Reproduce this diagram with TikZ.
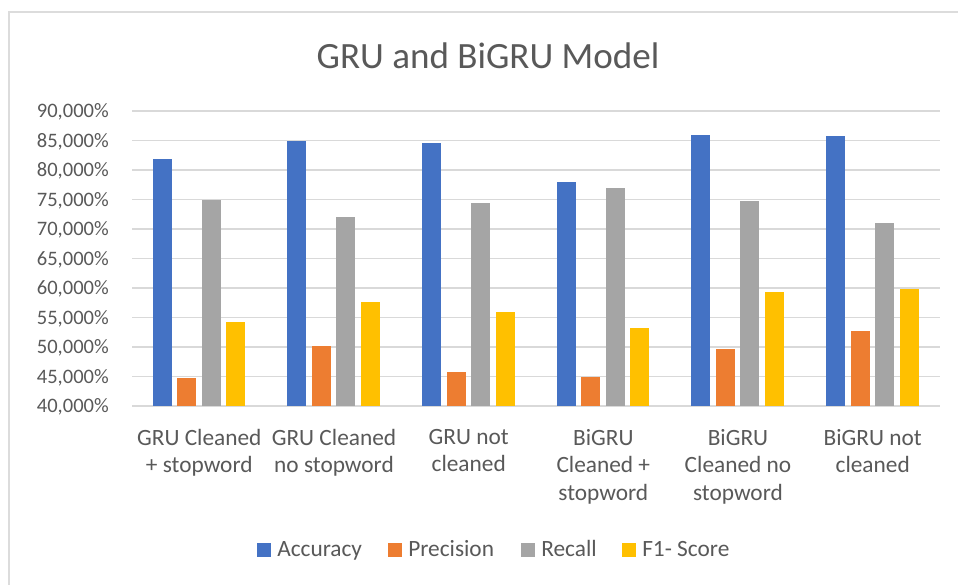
\documentclass[tikz,border=0pt]{standalone}
\usepackage{fontspec}
\setmainfont{Carlito}
\definecolor{serA}{HTML}{4472C4}
\definecolor{serP}{HTML}{ED7D31}
\definecolor{serR}{HTML}{A5A5A5}
\definecolor{serF}{HTML}{FFC000}
\definecolor{gridc}{HTML}{D9D9D9}
\definecolor{framec}{HTML}{DCDCDC}
\definecolor{txt}{HTML}{595959}
\tikzset{
  ticklabel/.style={anchor=base east, inner sep=0pt, text=txt, font=\fontsize{15.4}{18}\selectfont},
  catlabel/.style={anchor=north, inner sep=0pt, align=center, text=txt,
    font=\fontsize{17.5}{20.6}\selectfont, execute at begin node=\vphantom{d}},
  legtext/.style={anchor=base west, inner sep=0pt, text=txt, font=\fontsize{17.5}{20.6}\selectfont},
  gridline/.style={draw=gridc, line width=1.1pt},
}
% bar: group index, series offset, value, colour
\newcommand\drawbar[4]{%
  \fill[#4] ({132+134.667*#1+20.7+24.5*#2},406) rectangle ++(19,{-5.9*(#3-40)});}
\begin{document}
\begin{tikzpicture}[x=0.75pt,y=-0.75pt]
\useasboundingbox (0,0) rectangle (958,585);
\fill[white] (0,0) rectangle (958,585);
% chart frame
\draw[framec, line width=2.2pt] (9,585) -- (9,12) -- (958,12);
% title
\node[anchor=base, inner sep=0pt, text=txt, font=\fontsize{27.8}{32}\selectfont] (title) at (488,69) {GRU and BiGRU Model};
% gridlines and axis labels
\foreach \i in {0,...,10}{
  \pgfmathsetmacro\yy{406-29.5*\i}
  \pgfmathtruncatemacro\vv{40+5*\i}
  \draw[gridline] (132,\yy) -- (940,\yy);
  \node[ticklabel] (tick\i) at (109,\yy+6.8) {\vv,000\%};
}
% bars
\foreach \g/\a/\p/\r/\f in {0/81.8/44.7/75.0/54.2, 1/84.9/50.1/72.0/57.7, 2/84.6/45.7/74.4/55.9,
                           3/77.9/44.9/77.0/53.3, 4/85.9/49.7/74.7/59.4, 5/85.7/52.7/71.1/59.9}{
  \drawbar{\g}{0}{\a}{serA}
  \drawbar{\g}{1}{\p}{serP}
  \drawbar{\g}{2}{\r}{serR}
  \drawbar{\g}{3}{\f}{serF}
}
% category labels
\node[catlabel] (c1) at (199.3,428.8) {GRU Cleaned\\+ stopword};
\node[catlabel] (c2) at (334.0,428.8) {GRU Cleaned\\no stopword};
\node[catlabel] (c3) at (468.7,428.8) {GRU not\\cleaned};
\node[catlabel] (c4) at (603.3,428.8) {BiGRU\\Cleaned +\\stopword};
\node[catlabel] (c5) at (738.0,428.8) {BiGRU\\Cleaned no\\stopword};
\node[catlabel] (c6) at (872.7,428.8) {BiGRU not\\cleaned};
% legend
\fill[serA] (257,543) rectangle ++(14,13.5);
\node[legtext] (lA) at (277,556.7) {Accuracy};
\fill[serP] (388,543) rectangle ++(14,13.5);
\node[legtext] (lP) at (408,556.7) {Precision};
\fill[serR] (521,543) rectangle ++(14,13.5);
\node[legtext] (lR) at (541,556.7) {Recall};
\fill[serF] (622,543) rectangle ++(14,13.5);
\node[legtext] (lF) at (642,556.7) {F1- Score};
\end{tikzpicture}
\end{document}
